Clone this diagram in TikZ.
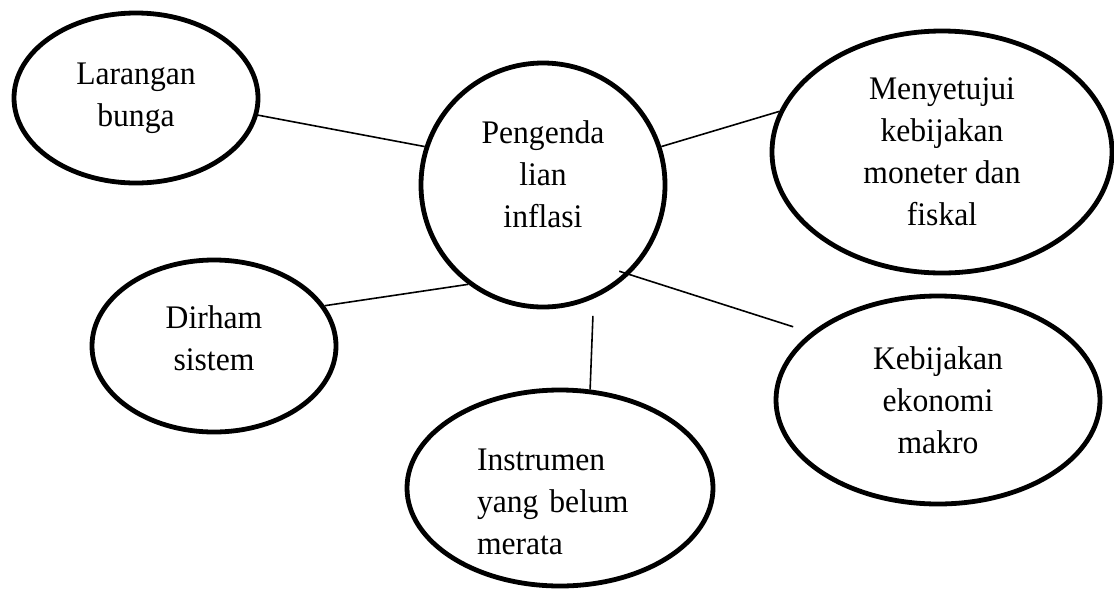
\documentclass[tikz,border=0pt]{standalone}
\usepackage{fontspec}
\setmainfont{Liberation Serif}[FakeStretch=0.96]
\usetikzlibrary{shapes.geometric}
\tikzset{
  bubble/.style = {ellipse, draw=black, line width=3.6pt, inner sep=0pt, align=center, font=\fontsize{24.7}{31.5}\selectfont},
  hub/.style = {bubble, circle, minimum size=183pt},
  link/.style = {draw=black, line width=1.2pt},
}

\begin{document}
\begin{tikzpicture}[x=0.75pt, y=-0.75pt]
\useasboundingbox (0,0) rectangle (1114,590);

\node [hub, text depth=17pt] (C) at (543,185) {Pengenda\\lian\\inflasi};

\node [bubble, minimum width=183pt, minimum height=127.5pt] (L) at (136,98) {Larangan\\bunga};
\node [bubble, minimum width=255pt, minimum height=181.5pt] (M) at (942,152) {Menyetujui\\kebijakan\\moneter dan\\fiskal};
\node [bubble, minimum width=183pt, minimum height=129pt, text depth=12pt] (D) at (214,346) {Dirham\\sistem};
\node [bubble, minimum width=229.5pt, minimum height=147pt, align=left, text width=124.5pt, text height=37pt] (I) at (560,488) {Instrumen\\yang belum\\merata};
\node [bubble, minimum width=243pt, minimum height=156pt] (K) at (938,400) {Kebijakan\\ekonomi\\makro};

\draw [link] (L.-8) -- (C.162);
\draw [link] (C.18) -- (M.166);
\draw [link] (D.20) -- (C.-127);
\draw [link, shorten <=13pt] (C.-66) -- (I.73);
\draw [link, shorten <=-8pt, shorten >=14pt] (C.-46) -- (K.152);
\end{tikzpicture}
\end{document}
